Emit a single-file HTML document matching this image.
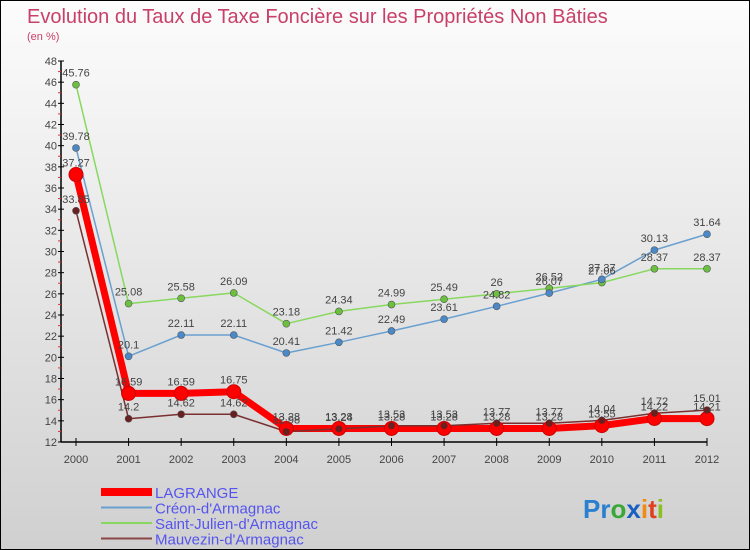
<!DOCTYPE html>
<html><head><meta charset="utf-8"><style>
body{margin:0;}
#wrap{width:748px;height:548px;border:1px solid #000;background:linear-gradient(#fcfcfc,#d0d0d0);position:relative;overflow:hidden;font-family:"Liberation Sans",sans-serif;}
svg text{font-family:"Liberation Sans",sans-serif;}
</style></head><body>
<div id="wrap">
<svg id="chart" width="748" height="548">
<text x="26" y="22" font-size="20" fill="#c8406a">Evolution du Taux de Taxe Foncière sur les Propriétés Non Bâties</text>
<text x="26" y="39" font-size="11" fill="#c8406a">(en %)</text>
<g id="axes"></g><g id="series"></g><g id="legend"></g>
<text x="582" y="517" font-size="26" font-weight="bold"><tspan fill="#2a7fd0">Pr</tspan><tspan fill="#3aa838">o</tspan><tspan fill="#1a60c0">x</tspan><tspan fill="#f08a10">i</tspan><tspan fill="#e04020">t</tspan><tspan fill="#8ac020">i</tspan></text>
</svg></div>
<script>
const years=[2000,2001,2002,2003,2004,2005,2006,2007,2008,2009,2010,2011,2012];
const yTicks=[12,14,16,18,20,22,24,26,28,30,32,34,36,38,40,42,44,46,48];
const seriesNames=["LAGRANGE","Créon-d'Armagnac","Saint-Julien-d'Armagnac","Mauvezin-d'Armagnac"];
const lagrange=[37.27,16.59,16.59,16.75,13.28,13.28,13.28,13.28,13.28,13.28,13.55,14.22,14.21];
const creon=[39.78,20.1,22.11,22.11,20.41,21.42,22.49,23.61,24.82,26.07,27.37,30.13,31.64];
const stjulien=[45.76,25.08,25.58,26.09,23.18,24.34,24.99,25.49,26,26.52,27.06,28.37,28.37];
const mauvezin=[33.85,14.2,14.62,14.62,12.98,13.24,13.53,13.53,13.77,13.77,14.04,14.72,15.01];
const NS="http://www.w3.org/2000/svg";
const X=i=>75+i*(706-75)/(years.length-1);
const Y=v=>441-(v-12)*(441-60)/36;
function mk(tag,attrs,parent){const e=document.createElementNS(NS,tag);for(const k in attrs)e.setAttribute(k,attrs[k]);parent.appendChild(e);return e;}
const ax=document.getElementById('axes');
let yl=mk('line',{x1:60,y1:60,x2:60,y2:441,stroke:'#000','stroke-width':1.5},ax);


let xl=mk('line',{x1:60,y1:441,x2:706,y2:441,stroke:'#000','stroke-width':1.5},ax);


yTicks.forEach(t=>{const y=Y(t);
 mk('line',{x1:57,y1:y,x2:63,y2:y,stroke:'#000'},ax);
 if(t<48)mk('line',{x1:57,y1:Y(t+1),x2:60,y2:Y(t+1),stroke:'#e03030'},ax);
 const tx=mk('text',{x:56,y:y+4,'font-size':11,'text-anchor':'end',fill:'#444'},ax);tx.textContent=t;
 
 });
years.forEach((yr,i)=>{const x=X(i);
 mk('line',{x1:x,y1:437,x2:x,y2:445,stroke:'#000'},ax);
 const tx=mk('text',{x:x,y:462,'font-size':11,'text-anchor':'middle',fill:'#444'},ax);tx.textContent=yr;
 
 });
const sg=document.getElementById('series');
const defs=[[stjulien,'#88d860','#6cc040',1.5,3.5,'saint-julien'],[creon,'#6aa0d0','#4a88c8',1.5,3.5,'creon'],[mauvezin,'#7a3030','#6a2020',1.5,3.5,'mauvezin'],[lagrange,'#ff0000','#ff0000',7,7,'lagrange']];
defs.slice().reverse().forEach(d=>{
 const [vals,lc,pc,w,r,nm]=d;
 const pl=mk('polyline',{points:vals.map((v,i)=>X(i)+','+Y(v)).join(' '),fill:'none',stroke:lc,'stroke-width':w,'stroke-linejoin':'round'},sg);
 
 
});
defs.forEach(d=>{
 const [vals,lc,pc,w,r,nm]=d;
 vals.forEach((v,i)=>{
  const c=mk('circle',{cx:X(i),cy:Y(v),r:r,fill:pc,stroke:nm=='lagrange'?'#c00':'#555','stroke-width':nm=='lagrange'?1:0.6},sg);
  
  
  if(nm=='lagrange'&&i>=4){mk('circle',{cx:X(i),cy:Y(mauvezin[i]),r:3.5,fill:'#6a2020'},sg);}
 });
});
defs.forEach(d=>{
 const [vals,lc,pc,w,r,nm]=d;
 vals.forEach((v,i)=>{
  const t=mk('text',{x:X(i),y:Y(v)-8,'font-size':11,'text-anchor':'middle',fill:'#444'},sg);
  t.textContent=String(v);
  
  
 });
});
const lg=document.getElementById('legend');
const lcol=['#ff0000','#6aa0d0','#88d860','#8a4848'];
const lw=[8,2,2,2];
seriesNames.forEach((n,i)=>{const y=491+i*15.5;
 const l=mk('line',{x1:100,y1:y,x2:151,y2:y,stroke:lcol[i],'stroke-width':lw[i]},lg);
 
 
 const t=mk('text',{x:154,y:y+6,'font-size':15,fill:'#5555ee'},lg);t.textContent=n;
 
 
});
</script>
</body></html>
